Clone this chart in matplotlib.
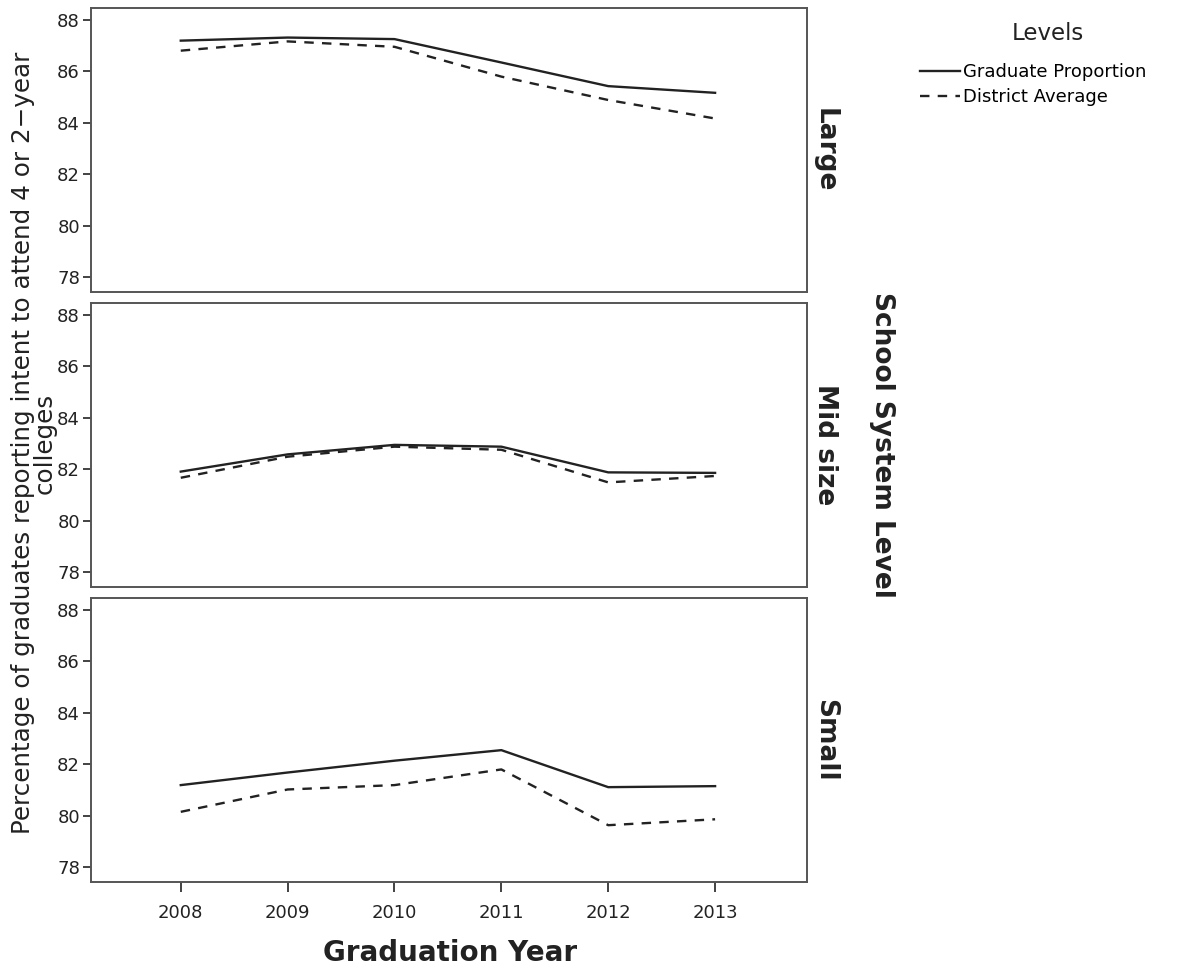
import matplotlib
matplotlib.use("Agg")
import matplotlib.pyplot as plt

plt.rcParams.update({
    "font.family": "DejaVu Sans",
    "font.size": 12,
    "axes.edgecolor": "#555555",
    "axes.linewidth": 1.4,
})

# ── Data ─────────────────────────────────────────────────────────────────────
years = [2008, 2009, 2010, 2011, 2012, 2013]
levels = ["Large", "Mid size", "Small"]

large_grad = [87.2, 87.32, 87.26, 86.35, 85.43, 85.17]
large_dist = [86.81, 87.17, 86.96, 85.8, 84.89, 84.17]

mid_grad = [81.91, 82.58, 82.95, 82.88, 81.88, 81.86]
mid_dist = [81.67, 82.49, 82.88, 82.76, 81.49, 81.74]

small_grad = [81.19, 81.68, 82.14, 82.55, 81.11, 81.15]
small_dist = [80.15, 81.02, 81.19, 81.8, 79.63, 79.86]

grad_series = [large_grad, mid_grad, small_grad]
dist_series = [large_dist, mid_dist, small_dist]

y_ticks = [78, 80, 82, 84, 86, 88]

# ── Figure ───────────────────────────────────────────────────────────────────
W, H = 1183, 972
fig = plt.figure(figsize=(W / 100, H / 100), dpi=100)

left, right = 91, 807
panel_tops = [8, 303, 598]
panel_h = 284
TXT = "#222222"

axes = []
for i, top in enumerate(panel_tops):
    ax = fig.add_axes([left / W, 1 - (top + panel_h) / H,
                       (right - left) / W, panel_h / H])
    ax.plot(years, grad_series[i], color=TXT, lw=1.7, ls="-",
            label="Graduate Proportion")
    ax.plot(years, dist_series[i], color=TXT, lw=1.7,
            ls=(0, (4, 3.5)), label="District Average")
    ax.set_xlim(2007.16, 2013.86)
    ax.set_ylim(77.42, 88.47)
    ax.set_yticks(y_ticks)
    ax.tick_params(axis="y", direction="out", length=6, width=1.2, pad=2,
                   labelsize=13, colors=TXT)
    ax.set_xticks(years)
    if i < 2:
        ax.tick_params(axis="x", bottom=False, labelbottom=False)
    else:
        ax.tick_params(axis="x", direction="out", length=7, width=1.2,
                       pad=9, labelsize=13, colors=TXT)
    ax.text(1.025, 0.5, levels[i], transform=ax.transAxes, rotation=-90,
            ha="center", va="center", fontsize=19, fontweight="bold",
            color=TXT)
    axes.append(ax)

# ── Axis titles ──────────────────────────────────────────────────────────────
fig.text(450 / W, 1 - 953 / H, "Graduation Year", ha="center", va="center",
         fontsize=20, fontweight="bold", color=TXT)
fig.text(882 / W, 1 - 445 / H, "School System Level", ha="center",
         va="center", rotation=-90, fontsize=19, fontweight="bold",
         color=TXT)
fig.text(34 / W, 1 - 443 / H,
         "Percentage of graduates reporting intent to attend 4 or 2\u2212year\ncolleges",
         ha="center", va="center", rotation=90, fontsize=17.7,
         multialignment="center", color=TXT, linespacing=0.85)

# ── Legend ───────────────────────────────────────────────────────────────────
fig.text(1048 / W, 1 - 34 / H, "Levels", ha="center", va="center",
         fontsize=16.5, color=TXT)
handles, labels = axes[0].get_legend_handles_labels()
fig.legend(handles, labels, loc="upper left",
           bbox_to_anchor=(920 / W, 1 - 63 / H), frameon=False,
           fontsize=13, handlelength=2.2, handletextpad=0.2,
           labelspacing=0.38, borderpad=0.0, borderaxespad=0.0)

fig.savefig("out.png", dpi=100, facecolor="white")
plt.close(fig)
